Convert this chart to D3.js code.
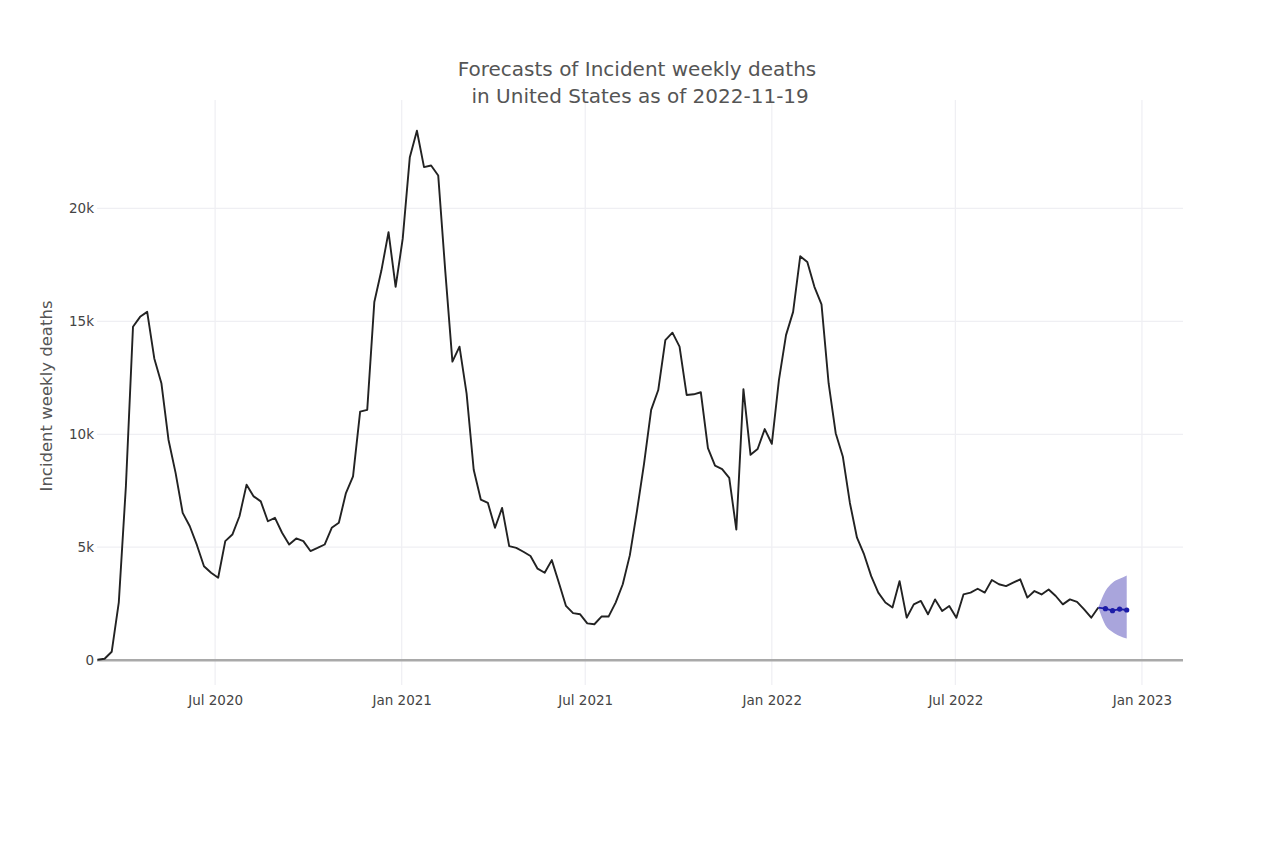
<!DOCTYPE html>
<html>
<head>
<meta charset="utf-8">
<script src="https://cdn.jsdelivr.net/npm/d3@7"></script>
<style>
  html, body { margin: 0; padding: 0; background: #fff; }
  text { font-family: "DejaVu Sans", Verdana, sans-serif; }
</style>
</head>
<body>
<script>
// ---------------- DATA ----------------
const firstWeek = "2020-03-07";   // first observed week (Saturday)
const observedDeaths = [
  20, 60, 370, 2560, 7700, 14760, 15200, 15420, 13360, 12260,
  9760, 8290, 6520, 5930, 5100, 4160, 3870, 3650, 5270, 5560,
  6370, 7770, 7250, 7030, 6150, 6300, 5640, 5120, 5390, 5270,
  4830, 4970, 5120, 5860, 6080, 7400, 8140, 11000, 11080, 15860,
  17260, 18950, 16530, 18660, 22270, 23440, 21830, 21900, 21460, 17200,
  13220, 13880, 11800, 8430, 7110, 6960, 5860, 6740, 5050, 4970,
  4800, 4610, 4050, 3870, 4430, 3430, 2400, 2080, 2030, 1630,
  1590, 1930, 1930, 2550, 3360, 4650, 6600, 8700, 11080, 11960,
  14170, 14500, 13880, 11740, 11770, 11860, 9390, 8610, 8460, 8070,
  5780, 12000, 9090, 9350, 10230, 9580, 12400, 14390, 15420, 17880,
  17630, 16530, 15750, 12260, 10050, 9020, 6960, 5420, 4680, 3720,
  2990, 2550, 2330, 3500, 1880, 2470, 2620, 2030, 2690, 2180,
  2400, 1880, 2910, 2990, 3160, 2990, 3550, 3360, 3280, 3430,
  3580, 2770, 3060, 2910, 3130, 2840, 2470, 2690, 2580, 2250,
  1880, 2330
];
const forecastDates = ["2022-11-19", "2022-11-26", "2022-12-03", "2022-12-10", "2022-12-17"];
const forecastMedian = [2330, 2280, 2190, 2260, 2220];
const forecastLower  = [2330, 1550, 1250, 1070, 960];
const forecastUpper  = [2330, 3060, 3430, 3600, 3750];

const xTickDates  = ["2020-07-01", "2021-01-01", "2021-07-01", "2022-01-01", "2022-07-01", "2023-01-01"];
const xTickLabels = ["Jul 2020", "Jan 2021", "Jul 2021", "Jan 2022", "Jul 2022", "Jan 2023"];
const yTickValues = [0, 5000, 10000, 15000, 20000];
const yTickLabels = ["0", "5k", "10k", "15k", "20k"];

const titleLines = ["Forecasts of Incident weekly deaths", " in United States as of 2022-11-19"];
const yAxisTitle = "Incident weekly deaths";

// ---------------- CHART ----------------
const W = 1280, H = 851;
const plot = { left: 97, right: 1183, top: 100, bottom: 685 };
const parse = d3.utcParse("%Y-%m-%d");

const start = parse(firstWeek);
const observed = observedDeaths.map((v, i) => ({ date: d3.utcDay.offset(start, 7 * i), value: v }));
const forecast = forecastDates.map((d, i) => ({
  date: parse(d), median: forecastMedian[i], lower: forecastLower[i], upper: forecastUpper[i]
}));

const x = d3.scaleUtc()
  .domain([new Date(Date.UTC(2020, 2, 6, 12)), new Date(Date.UTC(2023, 1, 10, 12))])
  .range([plot.left, plot.right]);
const y = d3.scaleLinear().domain([-1100, 24800]).range([plot.bottom, plot.top]);

const svg = d3.select("body").append("svg").attr("width", W).attr("height", H);
svg.append("rect").attr("width", W).attr("height", H).attr("fill", "#fff");

// grid
const grid = svg.append("g");
grid.selectAll("line.v").data(xTickDates.map(parse)).join("line")
  .attr("x1", d => x(d)).attr("x2", d => x(d))
  .attr("y1", plot.top).attr("y2", plot.bottom)
  .attr("stroke", "#efeff3").attr("stroke-width", 1.2);
grid.selectAll("line.h").data(yTickValues.filter(v => v !== 0)).join("line")
  .attr("x1", plot.left).attr("x2", plot.right)
  .attr("y1", d => y(d)).attr("y2", d => y(d))
  .attr("stroke", "#efeff3").attr("stroke-width", 1.2);

// zero line
svg.append("line")
  .attr("x1", plot.left).attr("x2", plot.right)
  .attr("y1", y(0)).attr("y2", y(0))
  .attr("stroke", "#a9a9a9").attr("stroke-width", 2.5);

// axes
const xAxis = d3.axisBottom(x)
  .tickValues(xTickDates.map(parse))
  .tickFormat((d, i) => xTickLabels[i])
  .tickSize(0).tickPadding(0);
const gx = svg.append("g").attr("transform", `translate(0,${plot.bottom + 10})`).call(xAxis);
gx.select(".domain").remove();
gx.selectAll("text").attr("font-size", 13.5).attr("fill", "#444")
  .attr("font-family", "DejaVu Sans, Verdana, sans-serif").attr("dy", "0.71em");

const yAxis = d3.axisLeft(y)
  .tickValues(yTickValues)
  .tickFormat((d, i) => yTickLabels[i])
  .tickSize(0).tickPadding(0);
const gy = svg.append("g").attr("transform", `translate(${plot.left - 3},0)`).call(yAxis);
gy.select(".domain").remove();
gy.selectAll("text").attr("font-size", 13.5).attr("fill", "#444")
  .attr("font-family", "DejaVu Sans, Verdana, sans-serif");

// forecast band
const band = d3.area()
  .x(d => x(d.date)).y0(d => y(d.lower)).y1(d => y(d.upper))
  .curve(d3.curveMonotoneX);
svg.append("path").datum(forecast)
  .attr("d", band)
  .attr("fill", "#a9a5dc").attr("stroke", "none");

// observed line
const line = d3.line().x(d => x(d.date)).y(d => y(d.value));
svg.append("path").datum(observed)
  .attr("d", line)
  .attr("fill", "none").attr("stroke", "#222").attr("stroke-width", 1.9)
  .attr("stroke-linejoin", "round");

// forecast median
const fline = d3.line().x(d => x(d.date)).y(d => y(d.median));
svg.append("path").datum(forecast)
  .attr("d", fline)
  .attr("fill", "none").attr("stroke", "#1c1ca8").attr("stroke-width", 1.8);
svg.selectAll("circle.fc").data(forecast.slice(1)).join("circle")
  .attr("cx", d => x(d.date)).attr("cy", d => y(d.median)).attr("r", 2.6)
  .attr("fill", "#1c1ca8");

// titles
svg.append("text").attr("x", 637).attr("y", 76).attr("text-anchor", "middle")
  .attr("font-size", 20).attr("fill", "#555").text(titleLines[0]);
svg.append("text").attr("x", 637).attr("y", 103).attr("text-anchor", "middle")
  .attr("font-size", 20).attr("fill", "#555").attr("xml:space", "preserve")
  .style("white-space", "pre").text(titleLines[1]);

svg.append("text")
  .attr("transform", `translate(46,396) rotate(-90)`)
  .attr("text-anchor", "middle").attr("dy", "0.35em")
  .attr("font-size", 16.5).attr("fill", "#555").text(yAxisTitle);
</script>
</body>
</html>
